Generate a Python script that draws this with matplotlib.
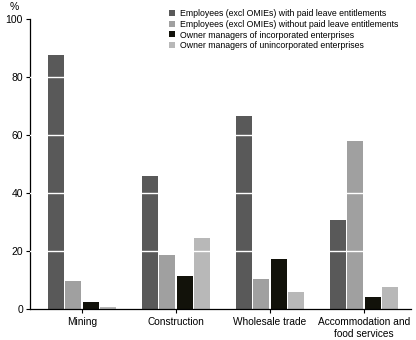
import numpy as np
import matplotlib
matplotlib.use("Agg")
import matplotlib.pyplot as plt
from matplotlib.lines import Line2D

plt.rcParams['font.family'] = ['Liberation Sans', 'DejaVu Sans']

# Daten
industries = ["Mining", "Construction", "Wholesale trade", "Accommodation and\nfood services"]
series_names = [
    "Employees (excl OMIEs) with paid leave entitlements",
    "Employees (excl OMIEs) without paid leave entitlements",
    "Owner managers of incorporated enterprises",
    "Owner managers of unincorporated enterprises",
]
paid_leave = [87.6, 45.9, 66.5, 30.7]
no_paid_leave = [9.7, 18.6, 10.3, 57.9]
owner_incorp = [2.4, 11.4, 17.2, 4.1]
owner_unincorp = [0.7, 24.5, 5.9, 7.6]

colors = ["#595959", "#a0a0a0", "#12120a", "#b8b8b8"]

fig = plt.figure(figsize=(4.16, 3.4), dpi=100)
ax = fig.add_axes([30 / 416, 1 - 309 / 340, 381 / 416, 290 / 340])

x = np.arange(len(industries))
step = 0.183
values = [paid_leave, no_paid_leave, owner_incorp, owner_unincorp]
for i, (vals, col) in enumerate(zip(values, colors)):
    ax.bar(x + (i - 1.5) * step, vals, width=step - 0.012, color=col, linewidth=0, zorder=2)

# weisse Gitterlinien vor den Balken
for g in [20, 40, 60, 80]:
    ax.axhline(g, color="white", linewidth=1, zorder=3)

ax.set_xlim(-0.553, 3.5)
ax.set_ylim(0, 100)
ax.set_yticks([0, 20, 40, 60, 80, 100])
ax.set_xticks(x)
ax.set_xticklabels(industries, fontsize=7.3)
ax.tick_params(axis="y", labelsize=7.5, length=3, width=0.8, pad=2)
ax.tick_params(axis="x", length=3, width=0.8, pad=3)
ax.spines["top"].set_visible(False)
ax.spines["right"].set_visible(False)
ax.spines["left"].set_linewidth(0.9)
ax.spines["bottom"].set_linewidth(0.9)

fig.text(14 / 416, 1 - 7 / 340, "%", fontsize=7.5, ha="center", va="center")

handles = [Line2D([], [], marker="s", linestyle="none", markersize=3.8,
                  markerfacecolor=c, markeredgewidth=0) for c in colors]
fig.legend(handles, series_names, loc="upper left", bbox_to_anchor=(168 / 416, 1 - 9 / 340),
           frameon=False, fontsize=6.3, handlelength=0.8, handletextpad=0.6,
           labelspacing=0.2, borderpad=0, borderaxespad=0)

fig.savefig("out.png", dpi=100)
